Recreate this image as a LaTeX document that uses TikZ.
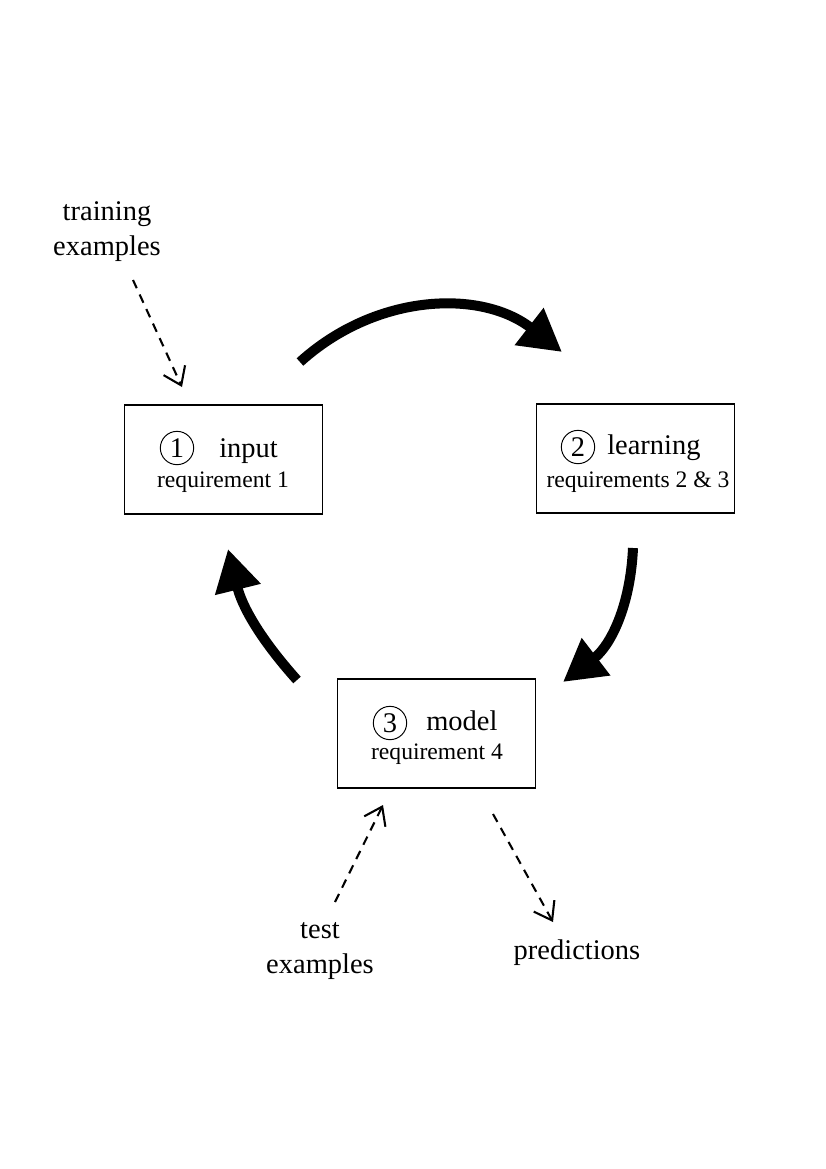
\documentclass[tikz,border=0pt]{standalone}
\usepackage{fontspec}
\setmainfont{Liberation Serif}
\usetikzlibrary{arrows.meta}

\begin{document}
\begin{tikzpicture}[x=0.72pt,y=-0.72pt]
    \tikzstyle{every node}=[inner sep=0pt,font=\fontsize{20.5}{25}\selectfont];
    \tikzstyle{stage}=[draw,line width=0.9pt,minimum width=143pt,minimum height=78.5pt];
    \tikzstyle{num}=[draw,circle,line width=0.7pt,minimum size=24pt];
    \tikzstyle{req}=[anchor=base,font=\fontsize{17}{21}\selectfont];
    \tikzstyle{cycle}=[line width=7.2pt,-{Triangle[length=30pt,width=32pt]}];
    \tikzstyle{feed}=[line width=1.5pt,dash pattern=on 6.5pt off 5pt,-{Straight Barb[length=12pt,width=17pt]}];
    \useasboundingbox (0,0) rectangle (826,1169);

    % the three stages
    \node at (223.5,459.5) (inp) [stage] {};
    \node at (177,448) (n1) [num] {1};
    \node at (219,457) (w1) [anchor=base west] {input};
    \node at (223,487) (r1) [req] {requirement 1};

    \node at (635.5,458.5) (lrn) [stage] {};
    \node at (578,447) (n2) [num] {2};
    \node at (607,454) (w2) [anchor=base west] {learning};
    \node at (638,487) (r2) [req] {requirements 2 \& 3};

    \node at (436.5,733.5) (mdl) [stage] {};
    \node at (390,723) (n3) [num] {3};
    \node at (426,730) (w3) [anchor=base west] {model};
    \node at (437,759) (r3) [req] {requirement 4};

    % data in and out
    \node at (107,255) (train) [anchor=base,align=center] {training\\examples};
    \node at (320,973) (test) [anchor=base,align=center] {test\\examples};
    \node at (577,959) (pred) [anchor=base] {predictions};

    \coordinate (a0) at (133,280);  \coordinate (a1) at (182,387);
    \coordinate (b0) at (335,902);  \coordinate (b1) at (383,805);
    \coordinate (c0) at (493,814);  \coordinate (c1) at (553,922);
    \draw[feed] (a0) to (a1);
    \draw[feed] (b0) to (b1);
    \draw[feed] (c0) to (c1);

    % the learning cycle
    \coordinate (p0) at (300,362);  \coordinate (p1) at (562,352);
    \coordinate (q0) at (633,548);  \coordinate (q1) at (563,682);
    \coordinate (s0) at (297,680);  \coordinate (s1) at (228,549);
    \draw[cycle] (p0) to[bend left=40] (p1);
    \draw[cycle] (q0) to[bend left=25] (q1);
    \draw[cycle] (s0) to[bend left=14] (s1);
\end{tikzpicture}
\end{document}
